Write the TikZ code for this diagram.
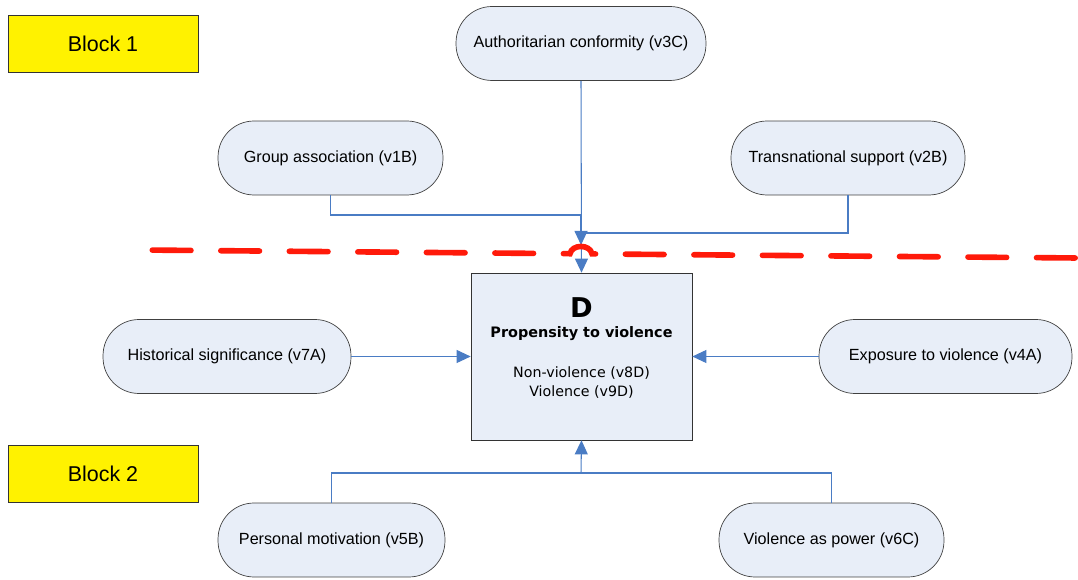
\documentclass[tikz,border=0pt]{standalone}
\usepackage{fontspec}
\setmainfont{Liberation Sans}
\newfontfamily\tahoma{DejaVu Sans}
\usetikzlibrary{arrows.meta}
\definecolor{nodefill}{HTML}{E8EEF8}
\definecolor{linkblue}{HTML}{4A7CC4}
\definecolor{dashred}{HTML}{FF1A0A}
\tikzset{
  stadium/.style={draw=black!75, fill=nodefill, rounded corners=0.72cm, minimum width=#1, minimum height=1.48cm, font=\fontsize{9.2}{11}\selectfont, inner sep=0pt},
  blocklabel/.style={draw=black!80, fill=yellow, minimum width=3.8cm, minimum height=1.14cm, font=\fontsize{12.2}{14}\selectfont, inner sep=0pt},
  link/.style={draw=linkblue, line width=0.6pt},
  tip/.style={-{Triangle[width=7.4pt,length=8pt]}, link},
}
\begin{document}
\begin{tikzpicture}[x=0.02cm, y=-0.02cm]
\useasboundingbox (0,0) rectangle (1078,580);
% block labels
\node[blocklabel] (b1) at (103,43.5) {Block 1};
\node[blocklabel] (b2) at (103,473.5) {Block 2};
% nodes
\node[stadium=5cm] (v3c) at (581,43.5) {Authoritarian conformity (v3C)};
\node[stadium=4.5cm] (v1b) at (330.5,158) {Group association (v1B)};
\node[stadium=4.68cm] (v2b) at (848,158) {Transnational support (v2B)};
\node[stadium=4.96cm] (v7a) at (227,356.5) {Historical significance (v7A)};
\node[stadium=5.06cm] (v4a) at (945.5,356.5) {Exposure to violence (v4A)};
\node[stadium=4.54cm] (v5b) at (331.5,540) {Personal motivation (v5B)};
\node[stadium=4.5cm] (v6c) at (831.5,540) {Violence as power (v6C)};
\node[draw=black!80, fill=nodefill, minimum width=4.42cm, minimum height=3.34cm, inner sep=0pt] (d) at (581.5,356.5) {};
\node[font=\tahoma\bfseries\fontsize{15.5}{17}\selectfont] (dl) at (581.5,308) {D};
\node[font=\tahoma\bfseries\fontsize{8.2}{10}\selectfont] (dt) at (581.5,334) {Propensity to violence};
\node[font=\tahoma\fontsize{8.1}{10.8}\selectfont, align=center] (dv) at (581.5,382.5) {Non-violence (v8D)\\Violence (v9D)};
% junction coordinates
\coordinate (j1) at (581,215);
\coordinate (j2) at (581,233);
\coordinate (j3) at (581,245);
\coordinate (j4) at (581,473);
% top connectors
\draw[link] (v1b.south) |- (j1);
\draw[link] (v2b.south) |- (j2);
\draw[tip] (j1) -- (j3);
\draw[tip] (v3c.south) -- (d.north);
% side connectors
\draw[tip] (v7a.east) -- (d.west);
\draw[tip] (v4a.west) -- (d.east);
% bottom connectors
\draw[link] (v5b.north) |- (j4);
\draw[link] (v6c.north) |- (j4);
\draw[tip] (j4) -- (d.south);
% red dashed boundary with line hop
\coordinate (r0) at (140,250);
\coordinate (h0) at (570,253.7);
\coordinate (h1) at (592,253.9);
\coordinate (r1) at (1078,258);
\draw[dashred, line width=3.2pt, line cap=round, dash pattern=on 22pt off 17pt, dash phase=32pt]
  (r0) -- (h0) .. controls (572,244) and (590,244) .. (h1) -- (r1);
\end{tikzpicture}
\end{document}
